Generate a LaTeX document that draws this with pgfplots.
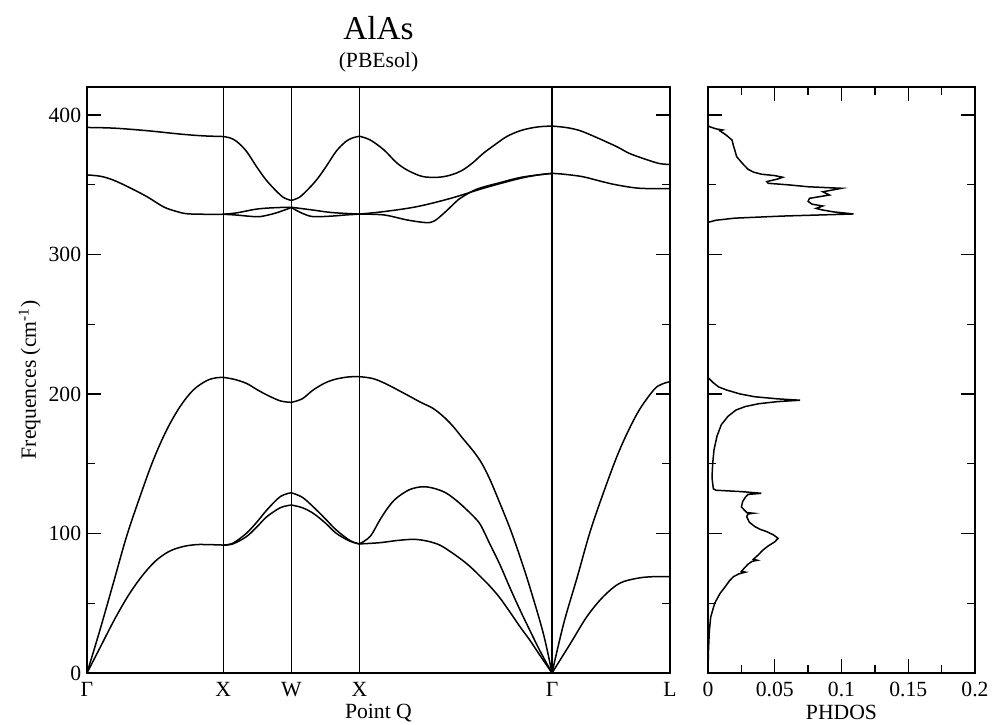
\documentclass[border=0pt]{standalone}
\usepackage{fontspec}
\setmainfont{Liberation Serif}
\usepackage{pgfplots}
\pgfplotsset{compat=1.18}
\newcommand{\seg}[1]{\addplot[band] coordinates {#1};}
\begin{document}
\begin{tikzpicture}
\useasboundingbox (-52.2pt,-30.6pt) rectangle (544.8pt,403.8pt);
\pgfplotsset{
  every axis/.append style={
    scale only axis, height=351.6pt, ymin=0, ymax=420,
    tick align=inside, major tick length=8.4pt, minor tick length=4.8pt,
    axis line style={line width=0.8pt}, every tick/.style={black, line width=0.8pt},
    tick label style={font=\fontsize{13}{15}\selectfont},
    label style={font=\fontsize{13}{15}\selectfont},
    /pgf/number format/assume math mode=true,
    ytick={0,100,200,300,400}, minor ytick={50,150,250,350},
    ytick pos=both,
    xticklabel style={yshift=-1.8pt},
    xlabel style={yshift=2pt},
  },
  band/.style={black, line width=0.9pt, no marks, smooth, tension=0.55},
}
\begin{axis}[
  at={(0pt,0pt)}, anchor=south west, width=349.8pt,
  xmin=0, xmax=4.2802,
  xtick={0,1,1.5,2,3.4142,4.2802}, xticklabels={Γ,X,W,X,Γ,L},
  xmajorgrids, grid style={black, line width=0.75pt},
  major x tick style={draw=none},
  yticklabel pos=left,
  ylabel={Frequences (cm\textsuperscript{-1})},
  xlabel={Point Q},
  ylabel style={yshift=-2pt},
]
% ---- top optical band
\seg{(0,391) (0.2,390.5) (0.44,388.7) (0.68,386.3) (0.85,385) (1,384.5)}
\seg{(1,384.5) (1.05,383.5) (1.10,380.9) (1.17,374) (1.245,362.9) (1.31,354) (1.37,347.4) (1.44,341) (1.5,338.7)}
\seg{(1.5,338.7) (1.56,341) (1.63,347.4) (1.69,354) (1.755,362.9) (1.83,374) (1.90,380.9) (1.95,383.5) (2,384.7)}
\seg{(2,384.7) (2.08,382) (2.18,374.9) (2.27,366) (2.35,360.5) (2.45,356.2) (2.53,355.2) (2.61,355.6) (2.68,357.2) (2.75,360) (2.83,365.5) (2.91,372.5) (3.0,379) (3.08,384.4) (3.17,388.3) (3.25,390.4) (3.33,391.6) (3.414,392)}
\seg{(3.414,392) (3.5,391.2) (3.57,390) (3.64,388) (3.76,383) (3.89,377.2) (3.98,372.5) (4.08,368.9) (4.2,365.2) (4.2802,364.5)}
% ---- transverse optical (two branches)
\seg{(0,357) (0.1,356) (0.19,353.4) (0.3,348.5) (0.44,341.4) (0.56,334.2) (0.65,331) (0.73,329.2) (0.85,328.8) (1,328.8)}
\seg{(1,328.8) (1.1,329.8) (1.245,332.5) (1.38,333.5) (1.5,333.8)}
\seg{(1.5,333.8) (1.66,331.8) (1.8,330) (2,328.9)}
\seg{(2,328.9) (2.18,330.7) (2.42,334.2) (2.67,340.2) (2.91,347.4) (3.15,353.8) (3.3,356.8) (3.414,358.1)}
\seg{(3.414,358.1) (3.5,357.5) (3.64,355.7) (3.77,352.5) (3.89,349.8) (4.06,347.4) (4.2802,347.2)}
\seg{(1,328.8) (1.1,328.2) (1.2,327.3) (1.27,327.1) (1.38,329.5) (1.5,333.6)}
\seg{(1.5,333.6) (1.58,329.5) (1.66,327.1) (1.8,327.5) (1.9,328.3) (2,328.9)}
\seg{(2,328.9) (2.18,328.3) (2.35,324.7) (2.49,322.8) (2.55,324) (2.62,329.5) (2.68,335) (2.74,340.2) (2.86,346.7) (3.03,351.4) (3.2,355.5) (3.414,358.1)}
% ---- longitudinal acoustic
\seg{(0,0) (0.095,30.8) (0.193,64.3) (0.29,97.7) (0.389,126.4) (0.487,152.7) (0.585,174.2) (0.683,190.9) (0.78,202.8) (0.878,209.5) (0.95,211.6) (1,211.9)}
\seg{(1,211.9) (1.08,210.5) (1.17,207.6) (1.25,203) (1.32,199.3) (1.42,195) (1.5,194)}
\seg{(1.5,194) (1.58,196.5) (1.66,202.8) (1.75,208) (1.83,210.7) (1.92,212.2) (2,212.4)}
\seg{(2,212.4) (2.1,211) (2.2,207) (2.35,199.3) (2.45,194) (2.54,189.7) (2.62,183.5) (2.69,176.5) (2.76,168) (2.84,158.6) (2.9,150) (2.96,138.3) (3.03,122) (3.11,102.5) (3.18,83) (3.25,61.9) (3.35,28.4) (3.414,0)}
\seg{(3.414,0) (3.50,35.6) (3.60,69) (3.69,100.1) (3.79,128.8) (3.91,159.8) (4.04,186.1) (4.16,202.8) (4.22,207) (4.2802,208.8)}
% ---- transverse acoustic (two branches)
\seg{(0,0) (0.1,19) (0.2,38) (0.3,55) (0.4,69) (0.5,80) (0.6,87) (0.7,90.5) (0.8,92) (0.9,92) (1,91.7)}
\seg{(1,91.7) (1.07,93) (1.17,100.1) (1.25,108.5) (1.32,116.8) (1.42,126.5) (1.5,129.2)}
\seg{(1.5,129.2) (1.58,126) (1.66,119.2) (1.75,110.5) (1.83,102.5) (1.93,95) (2,92.5)}
\seg{(2,92.5) (2.08,98) (2.15,109.7) (2.21,118.5) (2.27,125.2) (2.37,131.5) (2.47,133.5) (2.56,132) (2.64,128.8) (2.72,123) (2.79,116.8) (2.84,112) (2.89,106) (2.96,92) (3.03,78) (3.11,60) (3.18,45) (3.25,30.8) (3.33,15) (3.414,0)}
\seg{(3.414,0) (3.55,21.3) (3.67,40.4) (3.79,54.7) (3.91,64.3) (4.04,67.9) (4.15,69) (4.2802,69)}
\seg{(1,91.7) (1.07,92.5) (1.17,97.7) (1.25,105) (1.32,112) (1.42,118.5) (1.5,120.4)}
\seg{(1.5,120.4) (1.58,118.5) (1.66,114.5) (1.75,107.5) (1.83,100.1) (1.93,94.5) (2,92.5)}
\seg{(2,92.5) (2.15,93.4) (2.28,95) (2.4,95.8) (2.5,94.5) (2.59,91.7) (2.66,87.5) (2.74,82) (2.81,76.5) (2.89,69) (2.96,62) (3.03,54) (3.11,43) (3.18,33) (3.25,23.7) (3.33,12) (3.414,0)}
\end{axis}
\node[anchor=base, font=\fontsize{20}{24}\selectfont] at (174.9pt,379.8pt) {AlAs};
\node[anchor=base, font=\fontsize{13}{15}\selectfont] at (174.9pt,363.3pt) {(PBEsol)};
\begin{axis}[
  at={(372.6pt,0pt)}, anchor=south west, width=160.2pt,
  xmin=0, xmax=0.2,
  xtick={0,0.05,0.1,0.15,0.2}, minor xtick={0.025,0.075,0.125,0.175},
  xtick pos=both, xticklabel pos=bottom,
  yticklabels={},
  scaled x ticks=false,
  xticklabel style={/pgf/number format/fixed, /pgf/number format/precision=2},
  xlabel={PHDOS},
]
\addplot[black, line width=0.9pt, no marks] coordinates {(0,0) (0.0003,15) (0.001,30) (0.002,40) (0.005,50) (0.009,57) (0.013,62) (0.016,66) (0.019,69) (0.023,71) (0.028,72.3) (0.025,72.8) (0.027,75) (0.030,78) (0.033,80) (0.037,80.8) (0.034,81.5) (0.038,85) (0.041,88) (0.045,91) (0.050,94) (0.0525,96.5) (0.049,99) (0.044,101.3) (0.039,103) (0.035,105) (0.031,108) (0.029,112) (0.030,114) (0.034,114.5) (0.029,115) (0.025,119) (0.026,123) (0.028,126) (0.030,128) (0.040,128.8) (0.025,130) (0.006,131) (0.004,132) (0.003,140) (0.0035,150) (0.0045,160) (0.0068,170) (0.010,178) (0.015,184) (0.021,188.5) (0.028,191) (0.038,193) (0.052,194.5) (0.069,195.5) (0.052,196.5) (0.035,198) (0.024,200) (0.014,202.8) (0.008,205) (0.004,208) (0.0008,211) (0,212)
 (0,323) (0.006,324.5) (0.02,326) (0.056,327.5) (0.109,329) (0.094,330.5) (0.085,332) (0.081,333) (0.086,334.7) (0.078,336) (0.075,338) (0.076,340.2) (0.091,342.6) (0.086,344.9) (0.095,346.5) (0.100,347.4) (0.075,348.5) (0.061,349.8) (0.045,351) (0.044,352.2) (0.052,354) (0.056,355.3) (0.050,356.5) (0.040,357.5) (0.034,359) (0.030,361) (0.026,365) (0.0215,370) (0.020,375) (0.019,378) (0.018,382) (0.013,386) (0.009,388.5) (0.011,389.2) (0.006,390) (0.001,391.6) (0,392.5) (0,420)};
\end{axis}
\end{tikzpicture}
\end{document}
